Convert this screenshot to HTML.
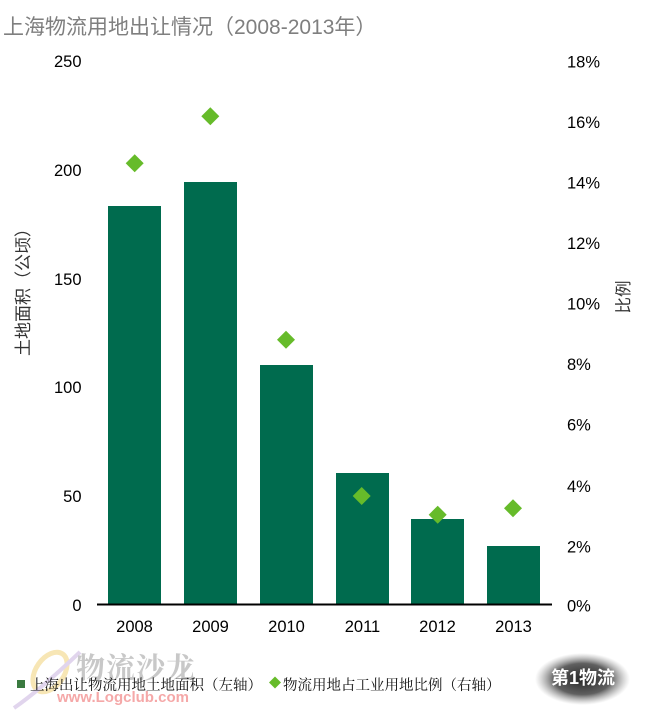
<!DOCTYPE html>
<html><head><meta charset="utf-8"><style>
html,body{margin:0;padding:0;background:#fff;}
svg{display:block;}
</style></head><body>
<svg width="650" height="712" viewBox="0 0 650 712" xmlns="http://www.w3.org/2000/svg">
<defs>
<radialGradient id="lg" cx="0.5" cy="0.5" r="0.5">
<stop offset="0" stop-color="#222"/>
<stop offset="0.6" stop-color="#444" stop-opacity="0.85"/>
<stop offset="1" stop-color="#888" stop-opacity="0"/>
</radialGradient>
</defs>
<rect width="650" height="712" fill="#fff"/>
<text x="3" y="34" font-family="Liberation Sans, Noto Sans CJK SC, sans-serif" font-size="21" fill="#7f7f7f">上海物流用地出让情况（2008-2013年）</text>

<g font-family="Liberation Sans, sans-serif" font-size="16.5" fill="#000" text-anchor="end">
<text x="81.5" y="67">250</text>
<text x="81.5" y="176">200</text>
<text x="81.5" y="285">150</text>
<text x="81.5" y="393">100</text>
<text x="81.5" y="502">50</text>
<text x="81.5" y="611">0</text>
</g>
<g font-family="Liberation Sans, sans-serif" font-size="16.5" fill="#000" text-anchor="start">
<text x="567" y="67.5">18%</text>
<text x="567" y="128">16%</text>
<text x="567" y="188.5">14%</text>
<text x="567" y="249">12%</text>
<text x="567" y="309.5">10%</text>
<text x="567" y="370">8%</text>
<text x="567" y="430.5">6%</text>
<text x="567" y="492">4%</text>
<text x="567" y="552.5">2%</text>
<text x="567" y="611.5">0%</text>
</g>

<text transform="translate(29,288) rotate(-90)" text-anchor="middle" font-family="Liberation Sans, Noto Sans CJK SC, sans-serif" font-size="17" fill="#333">土地面积（公顷）</text>
<text transform="translate(629,297) rotate(-90)" text-anchor="middle" font-family="Liberation Sans, Noto Sans CJK SC, sans-serif" font-size="16.5" fill="#333">比例</text>

<g fill="#006b4e">
<rect x="108" y="206" width="53" height="398"/>
<rect x="184" y="182" width="53" height="422"/>
<rect x="260" y="365" width="53" height="239"/>
<rect x="336" y="473" width="53" height="131"/>
<rect x="411" y="519" width="53" height="85"/>
<rect x="487" y="546" width="53" height="58"/>
</g>
<rect x="97" y="603.5" width="455" height="2" fill="#000"/>

<g fill="#66bb2a">
<polygon points="134.7,154.3 143.7,163.3 134.7,172.3 125.7,163.3"/>
<polygon points="210.3,107.3 219.3,116.3 210.3,125.3 201.3,116.3"/>
<polygon points="286,330.7 295,339.7 286,348.7 277,339.7"/>
<polygon points="361.7,487 370.7,496 361.7,505 352.7,496"/>
<polygon points="437.7,505.7 446.7,514.7 437.7,523.7 428.7,514.7"/>
<polygon points="513,499.3 522,508.3 513,517.3 504,508.3"/>
</g>

<g font-family="Liberation Sans, sans-serif" font-size="16.5" fill="#000" text-anchor="middle">
<text x="134.5" y="632">2008</text>
<text x="210.5" y="632">2009</text>
<text x="286.5" y="632">2010</text>
<text x="362.5" y="632">2011</text>
<text x="437.5" y="632">2012</text>
<text x="513.5" y="632">2013</text>
</g>

<!-- watermark swoosh -->
<g fill="none" opacity="0.55">
<ellipse cx="50" cy="672" rx="14" ry="22" transform="rotate(35 50 672)" stroke="#f2d27a" stroke-width="5"/>
<path d="M14 708 Q40 690 80 652" stroke="#c9b3e0" stroke-width="4"/>
</g>
<text x="76" y="678" font-family="Liberation Serif, Noto Serif CJK SC, serif" font-size="29" font-weight="bold" fill="#c8c8c8" letter-spacing="1">物流沙龙</text>
<text x="57" y="702" font-family="Liberation Sans, sans-serif" font-size="15" font-weight="bold" fill="#f5a8a8">www.Logclub.com</text>

<!-- right logo -->
<rect x="535" y="653" width="95" height="52" rx="18" fill="url(#lg)"/>
<text x="583" y="684" text-anchor="middle" font-family="Liberation Sans, Noto Sans CJK SC, sans-serif" font-size="18" font-weight="bold" fill="#fff">第1物流</text>

<!-- legend -->
<rect x="17" y="680" width="8" height="8" fill="#3a7a40"/>
<text x="30" y="690" font-family="Liberation Serif, Noto Serif CJK SC, serif" font-size="14.5" fill="#111">上海出让物流用地土地面积（左轴）</text>
<polygon points="275,676.5 281,682.5 275,688.5 269,682.5" fill="#66bb2a"/>
<text x="283" y="690" font-family="Liberation Serif, Noto Serif CJK SC, serif" font-size="14.5" fill="#111">物流用地占工业用地比例（右轴）</text>
</svg>
</body></html>
